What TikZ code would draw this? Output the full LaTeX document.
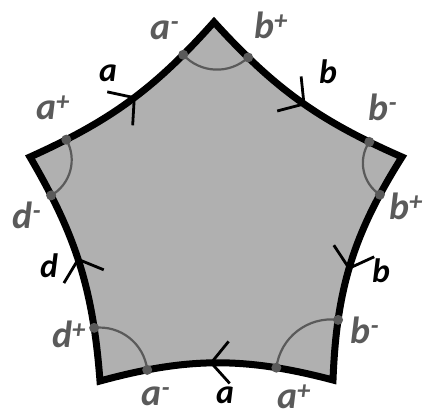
\documentclass[tikz,border=0pt]{standalone}
\usepackage{fontspec}
\setmainfont{Carlito}
\usetikzlibrary{arrows.meta,decorations.markings}
\definecolor{facegray}{RGB}{176,176,176}
\definecolor{markgray}{RGB}{90,90,90}
\newcommand{\sgn}[2]{#1\textsuperscript{#2}}
\tikzset{
  side/.style={postaction={decorate},decoration={markings,
      mark=at position 0.53 with {\arrow{Straight Barb[length=18bp,width=42bp,line width=2.8bp]}}}},
  spot/.style={circle,fill=markgray,inner sep=0pt,minimum size=10bp},
  corner/.style={draw=markgray,line width=2.2bp},
  endlabel/.style={text=markgray,inner sep=0pt,font=\fontsize{38}{38}\selectfont\bfseries\itshape},
  sidelabel/.style={inner sep=0pt,font=\fontsize{34}{34}\selectfont\bfseries\itshape}
}

\begin{document}
\begin{tikzpicture}[x=1bp,y=-1bp]
  \useasboundingbox (0,0) rectangle (425,418);
  % vertices
  \coordinate (T) at (214,22);
  \coordinate (R) at (402,157);
  \coordinate (BR) at (333,380);
  \coordinate (BL) at (100,381);
  \coordinate (L) at (30,157);
  % face
  \filldraw[fill=facegray,line width=7bp,line join=miter]
    (L) to[bend right=12] (T) to[bend right=12] (R) to[bend right=15] (BR)
    to[bend right=15] (BL) to[bend right=13] cycle;
  % sides: arrows and end spots
  \path[side] (L) to[bend right=12] node[spot,pos=0.16] (ap1) {} node[spot,pos=0.82] (am1) {} (T);
  \path[side] (T) to[bend right=12] node[spot,pos=0.195] (bp1) {} node[spot,pos=0.86] (bm1) {} (R);
  \path[side] (R) to[bend right=15] node[spot,pos=0.17] (bp2) {} node[spot,pos=0.76] (bm2) {} (BR);
  \path[side] (BR) to[bend right=15] node[spot,pos=0.23] (ap2) {} node[spot,pos=0.81] (am2) {} (BL);
  \path[side] (BL) to[bend right=13] node[spot,pos=0.21] (dp) {} node[spot,pos=0.83] (dm) {} (L);
  % corner arcs
  \draw[corner] (am1.center) to[bend right=45] (bp1.center);
  \draw[corner] (bm1.center) to[bend right=45] (bp2.center);
  \draw[corner] (bm2.center) to[bend right=45] (ap2.center);
  \draw[corner] (am2.center) to[bend right=45] (dp.center);
  \draw[corner] (dm.center) to[bend right=45] (ap1.center);
  % end labels
  \node[endlabel] (lam1) at (165,30) {\sgn{a}{-}};
  \node[endlabel] (lbp1) at (271,25) {\sgn{b}{+}};
  \node[endlabel] (lap1) at (53,108) {\sgn{a}{+}};
  \node[endlabel] (lbm1) at (383,107) {\sgn{b}{-}};
  \node[endlabel] (ldm) at (27,215) {\sgn{d}{-}};
  \node[endlabel] (lbp2) at (406,206) {\sgn{b}{+}};
  \node[endlabel] (ldp) at (69,334) {\sgn{d}{+}};
  \node[endlabel] (lbm2) at (365,330) {\sgn{b}{-}};
  \node[endlabel] (lam2) at (156,396) {\sgn{a}{-}};
  \node[endlabel] (lap2) at (294,397) {\sgn{a}{+}};
  % side labels
  \node[sidelabel] (sa1) at (108,73) {a};
  \node[sidelabel] (sb1) at (328,72) {b};
  \node[sidelabel] (sb2) at (381,271) {b};
  \node[sidelabel] (sa2) at (225,395) {a};
  \node[sidelabel] (sd) at (49,266) {d};
\end{tikzpicture}
\end{document}
